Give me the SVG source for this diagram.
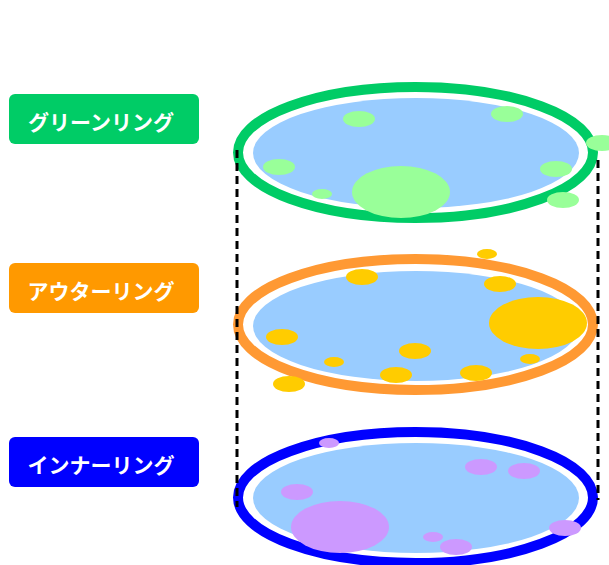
<svg xmlns="http://www.w3.org/2000/svg" width="609" height="565" viewBox="0 0 609 565">
<style>
.lbl{font-family:"Noto Sans CJK JP","Liberation Sans",sans-serif;font-size:21px;font-weight:bold;fill:#ffffff;text-anchor:middle;dominant-baseline:central}
.ring{fill:#ffffff;stroke-width:10}
.pool{fill:#99ccff}
.g{fill:#99ff99}
.y{fill:#ffcc00}
.p{fill:#cc99ff}
.dash{stroke:#000000;stroke-width:3;stroke-dasharray:8,5;fill:none}
</style>
<rect width="609" height="565" fill="#ffffff"/>
<g id="label-green">
<rect x="9" y="94" width="190" height="50" rx="6" fill="#00cc66"/>
<text class="lbl" x="101" y="121">グリーンリング</text>
</g>
<g id="label-outer">
<rect x="9" y="263" width="190" height="50" rx="6" fill="#ff9900"/>
<text class="lbl" x="101" y="290">アウターリング</text>
</g>
<g id="label-inner">
<rect x="9" y="437" width="190" height="50" rx="6" fill="#0000ff"/>
<text class="lbl" x="101" y="464">インナーリング</text>
</g>
<g id="ring-inner">
<ellipse class="ring" cx="415.5" cy="497.5" rx="177.5" ry="65.5" stroke="#0000ff"/>
<ellipse class="pool" cx="416" cy="498" rx="163" ry="55"/>
<ellipse class="p" cx="329" cy="443" rx="10" ry="5"/>
<ellipse class="p" cx="481" cy="467" rx="16" ry="8"/>
<ellipse class="p" cx="524" cy="471" rx="16" ry="8"/>
<ellipse class="p" cx="297" cy="492" rx="16" ry="8"/>
<ellipse class="p" cx="340" cy="527" rx="49" ry="26"/>
<ellipse class="p" cx="565" cy="528" rx="16" ry="8"/>
<ellipse class="p" cx="433" cy="537" rx="10" ry="5"/>
<ellipse class="p" cx="456" cy="547" rx="16" ry="8"/>
</g>
<g id="ring-outer">
<ellipse class="ring" cx="415.5" cy="324.5" rx="177.5" ry="65.5" stroke="#ff9933"/>
<ellipse class="pool" cx="416" cy="326" rx="163" ry="55"/>
<ellipse class="y" cx="487" cy="254" rx="10" ry="5"/>
<ellipse class="y" cx="362" cy="277" rx="16" ry="8"/>
<ellipse class="y" cx="500" cy="284" rx="16" ry="8"/>
<ellipse class="y" cx="538" cy="323" rx="49" ry="26"/>
<ellipse class="y" cx="282" cy="337" rx="16" ry="8"/>
<ellipse class="y" cx="415" cy="351" rx="16" ry="8"/>
<ellipse class="y" cx="334" cy="362" rx="10" ry="5"/>
<ellipse class="y" cx="530" cy="359" rx="10" ry="5"/>
<ellipse class="y" cx="396" cy="375" rx="16" ry="8"/>
<ellipse class="y" cx="476" cy="373" rx="16" ry="8"/>
<ellipse class="y" cx="289" cy="384" rx="16" ry="8"/>
</g>
<g id="ring-green">
<ellipse class="ring" cx="415.5" cy="152.5" rx="177.5" ry="65.5" stroke="#00cc66"/>
<ellipse class="pool" cx="416" cy="153" rx="163" ry="55"/>
<ellipse class="g" cx="359" cy="119" rx="16" ry="8"/>
<ellipse class="g" cx="507" cy="114" rx="16" ry="8"/>
<ellipse class="g" cx="279" cy="167" rx="16" ry="8"/>
<ellipse class="g" cx="556" cy="169" rx="16" ry="8"/>
<ellipse class="g" cx="322" cy="194" rx="10" ry="5"/>
<ellipse class="g" cx="401" cy="192" rx="49" ry="26"/>
<ellipse class="g" cx="563" cy="200" rx="16" ry="8"/>
<ellipse class="g" cx="602" cy="143" rx="16" ry="8"/>
</g>
<g id="connectors">
<line class="dash" x1="237" y1="150" x2="237" y2="507"/>
<line class="dash" x1="598" y1="160" x2="598" y2="500"/>
</g>
</svg>
